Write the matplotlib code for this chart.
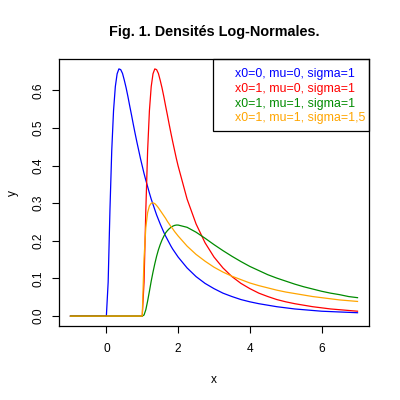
import matplotlib
matplotlib.use("Agg")
import matplotlib.pyplot as plt
from matplotlib.patches import Rectangle

## data (shared x grid)
x = ([-1.0, 0.0]
     + [round(0.05 * i, 2) for i in range(1, 41)]
     + [round(2.0 + 0.25 * i, 2) for i in range(1, 21)])

y_blue = [0.0, 0.0,
          0.090, 0.282, 0.440, 0.546, 0.610, 0.644, 0.657, 0.655, 0.645, 0.627,
          0.607, 0.584, 0.559, 0.535, 0.510, 0.486, 0.463, 0.441, 0.419, 0.399,
          0.379, 0.361, 0.344, 0.327, 0.311, 0.297, 0.283, 0.269, 0.257, 0.245,
          0.234, 0.223, 0.213, 0.204, 0.195, 0.186, 0.178, 0.171, 0.164, 0.157,
          0.128, 0.105, 0.087, 0.073, 0.061, 0.052, 0.044, 0.038, 0.033, 0.029,
          0.025, 0.022, 0.019, 0.017, 0.015, 0.013, 0.012, 0.011, 0.010, 0.009]

y_red = [0.0] * 22 + [
          0.090, 0.282, 0.440, 0.546, 0.610, 0.644, 0.657, 0.655, 0.645, 0.627,
          0.607, 0.584, 0.559, 0.535, 0.510, 0.486, 0.463, 0.441, 0.419, 0.399,
          0.311, 0.245, 0.195, 0.157, 0.128, 0.105, 0.087, 0.073, 0.061, 0.052,
          0.044, 0.038, 0.033, 0.029, 0.025, 0.022, 0.019, 0.017, 0.015, 0.013]

y_green = [0.0] * 22 + [
          0.003, 0.017, 0.040, 0.066, 0.093, 0.117, 0.139, 0.159, 0.176, 0.190,
          0.202, 0.212, 0.221, 0.227, 0.232, 0.236, 0.239, 0.241, 0.242, 0.242,
          0.236, 0.223, 0.207, 0.190, 0.174, 0.159, 0.145, 0.132, 0.121, 0.110,
          0.101, 0.093, 0.085, 0.078, 0.072, 0.066, 0.061, 0.057, 0.052, 0.049]

y_orange = [0.0] * 22 + [
          0.153, 0.236, 0.275, 0.293, 0.300, 0.301, 0.299, 0.294, 0.288, 0.281,
          0.274, 0.267, 0.260, 0.252, 0.245, 0.238, 0.232, 0.225, 0.219, 0.213,
          0.186, 0.164, 0.146, 0.130, 0.117, 0.106, 0.097, 0.088, 0.081, 0.075,
          0.069, 0.064, 0.060, 0.056, 0.052, 0.049, 0.046, 0.043, 0.041, 0.039]

labels = ["x0=0, mu=0, sigma=1",
          "x0=1, mu=0, sigma=1",
          "x0=1, mu=1, sigma=1",
          "x0=1, mu=1, sigma=1,5"]
colors = ["#0000ff", "#ff0000", "#008b00", "#ffa500"]
series = [y_blue, y_red, y_green, y_orange]

xticks = [0, 2, 4, 6]
yticks = [0.0, 0.1, 0.2, 0.3, 0.4, 0.5, 0.6]

plt.rcParams['font.family'] = ['Liberation Sans', 'DejaVu Sans']

fig = plt.figure(figsize=(4, 4), dpi=100)
ax = fig.add_axes([0.1475, 0.185, 0.775, 0.6675])

for ys, col in zip(series, colors):
    ax.plot(x, ys, color=col, linewidth=0.9)

# R style 4% padding
xmin, xmax = -1.0, 7.0
ymin, ymax = 0.0, max(y_blue)
dx = (xmax - xmin) * 0.04
dy = (ymax - ymin) * 0.04
ax.set_xlim(xmin - dx, xmax + dx)
ax.set_ylim(ymin - dy, ymax + dy)

ax.set_xticks(xticks)
ax.set_xticklabels([str(t) for t in xticks])
ax.set_yticks(yticks)
ax.set_yticklabels(["%.1f" % t for t in yticks], rotation=90, va='center')
ax.tick_params(direction='out', length=5.2, width=0.8, labelsize=8.6, colors='black')
ax.tick_params(axis='x', pad=7)
ax.tick_params(axis='y', pad=5)
for sp in ax.spines.values():
    sp.set_linewidth(0.9)

ax.set_xlabel("x", fontsize=8.6, labelpad=14)
ax.set_ylabel("y", fontsize=8.6, labelpad=10)
fig.suptitle("Fig. 1. Densités Log-Normales.", fontsize=10.4, fontweight='bold',
             x=0.535, y=0.92, va='center')

## legend box, top right
ax.add_patch(Rectangle((0.4968, 0.730), 0.5032, 0.27, transform=ax.transAxes,
                       fill=False, edgecolor='black', linewidth=0.9, clip_on=False))
ty = [0.9427, 0.8876, 0.8326, 0.7779]
for lab, col, yy in zip(labels, colors, ty):
    ax.text(0.568, yy, lab, color=col, fontsize=8.9, transform=ax.transAxes,
            ha='left', va='center')

fig.savefig("out.png", dpi=100)
